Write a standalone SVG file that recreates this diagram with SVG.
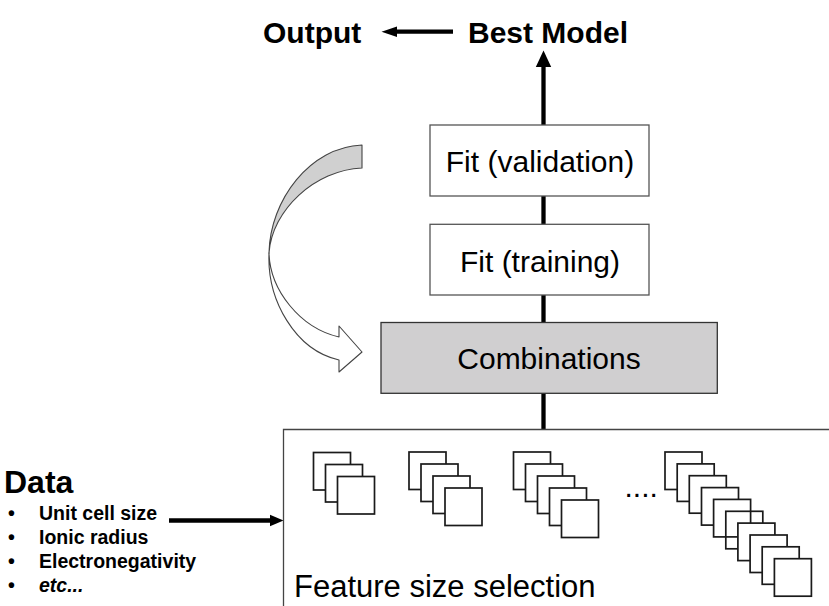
<svg xmlns="http://www.w3.org/2000/svg" width="829" height="606" viewBox="0 0 829 606">
<style>
  .t { font-family: "Liberation Sans", Arial, sans-serif; fill: #000; }
  .b { font-weight: bold; }
  .box { fill: #fff; stroke: #555; stroke-width: 1.3; }
  .grey { fill: #d0cfd0; stroke: #333; stroke-width: 1.3; }
  .sq { fill: #fff; stroke: #1a1a1a; stroke-width: 1.7; }
  .sqo { fill: none; stroke: #1a1a1a; stroke-width: 1.7; }
  .con { stroke: #000; stroke-width: 4.3; fill: none; }
  .head { fill: #000; stroke: none; }
</style>

<g id="connectors">
  <line class="con" x1="543.5" y1="64" x2="543.5" y2="429.5"/>
  <polygon class="head" points="543.5,50.5 551.2,67 535.8,67"/>
  <line class="con" x1="453" y1="31.7" x2="394" y2="31.7"/>
  <polygon class="head" points="381.5,31.7 397,26.4 397,37"/>
  <line class="con" x1="169" y1="520.5" x2="272" y2="520.5"/>
  <polygon class="head" points="283.5,520.5 270,514.8 270,526.2"/>
</g>

<g id="output">
  <text class="t b" x="263" y="43" font-size="30">Output</text>
</g>
<g id="best-model">
  <text class="t b" x="468" y="43" font-size="30">Best Model</text>
</g>

<g id="fit-validation">
  <rect class="box" x="430" y="125" width="219" height="71"/>
  <text class="t" x="540" y="171.5" font-size="30" text-anchor="middle">Fit (validation)</text>
</g>

<g id="fit-training">
  <rect class="box" x="430" y="224.3" width="219" height="70.7"/>
  <text class="t" x="540" y="271.5" font-size="30" text-anchor="middle">Fit (training)</text>
</g>

<g id="combinations">
  <rect class="grey" x="381" y="322.5" width="336.3" height="70.8"/>
  <text class="t" x="549" y="369.3" font-size="30" text-anchor="middle">Combinations</text>
</g>

<g id="loop-arrow" stroke="#444" stroke-width="1.1" stroke-linejoin="round">
  <path fill="#d0d0d0" d="M362,145 C310,147 270,200 269,253 C272,210 315,170 362,168 Z"/>
  <path fill="#fff" d="M269,253 C270,290 300,328 339,337 L339,326 L362,352 L339,372 L339,360 C295,350 267,300 269,253 Z"/>
</g>

<g id="feature-size-selection">
  <path d="M829,429.5 H283.5 V606" fill="none" stroke="#444" stroke-width="1.3"/>
  <g id="set-1">
    <rect class="sq" x="313.5" y="452.5" width="37" height="37.5"/>
    <rect class="sq" x="325.5" y="464.5" width="37" height="37.5"/>
    <rect class="sq" x="337.5" y="476.5" width="37" height="37.5"/>
  </g>
  <g id="set-2">
    <rect class="sq" x="409" y="452" width="37" height="37.5"/>
    <rect class="sq" x="421" y="464" width="37" height="37.5"/>
    <rect class="sq" x="433" y="476" width="37" height="37.5"/>
    <rect class="sq" x="445" y="488" width="37" height="37.5"/>
  </g>
  <g id="set-3">
    <rect class="sq" x="513.5" y="452" width="37" height="37.5"/>
    <rect class="sq" x="525.5" y="464" width="37" height="37.5"/>
    <rect class="sq" x="537.5" y="476" width="37" height="37.5"/>
    <rect class="sq" x="549.5" y="488" width="37" height="37.5"/>
    <rect class="sq" x="561.5" y="500" width="37" height="37.5"/>
  </g>
  <text class="t" x="624.5" y="497" font-size="30">....</text>
  <g id="set-n">
    <rect class="sq" x="665" y="452" width="37" height="37.5"/>
    <rect class="sq" x="677.2" y="463.9" width="37" height="37.5"/>
    <rect class="sq" x="689.3" y="475.7" width="37" height="37.5"/>
    <rect class="sq" x="701.5" y="487.6" width="37" height="37.5"/>
    <rect class="sq" x="713.6" y="499.4" width="37" height="37.5"/>
    <rect class="sqo" x="725.8" y="511.3" width="37" height="37.5"/>
    <rect class="sq" x="737.9" y="523.1" width="37" height="37.5"/>
    <rect class="sq" x="750.1" y="535" width="37" height="37.5"/>
    <rect class="sq" x="762.2" y="546.8" width="37" height="37.5"/>
    <rect class="sq" x="774.4" y="558.7" width="37" height="37.5"/>
  </g>
  <text class="t" x="294" y="597" font-size="31">Feature size selection</text>
</g>

<g id="data">
  <text class="t b" x="4" y="493" font-size="32">Data</text>
  <g class="t b" font-size="19.5">
    <text x="8" y="520">•</text>
    <text x="39" y="520">Unit cell size</text>
    <text x="8" y="544">•</text>
    <text x="39" y="544">Ionic radius</text>
    <text x="8" y="568">•</text>
    <text x="39" y="568">Electronegativity</text>
    <text x="8" y="592">•</text>
    <text x="39" y="592" font-style="italic">etc...</text>
  </g>
</g>
</svg>
